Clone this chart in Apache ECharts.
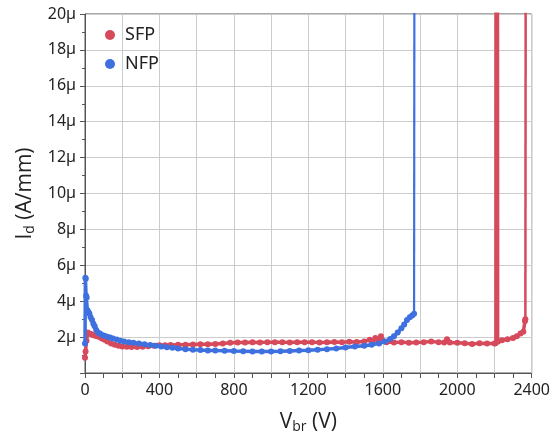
<!DOCTYPE html>
<html>
<head>
<meta charset="utf-8">
<script src="https://cdn.jsdelivr.net/npm/echarts@6/dist/echarts.min.js"></script>
<style>html,body{margin:0;padding:0;background:#fff}#c{width:553px;height:441px}</style>
</head>
<body>
<div id="c"></div>
<script>
// Values in µA/mm (y) and V (x)
const sfpLow = [
[0,0.85],[3,1.2],[8,1.8],[14,2.25],[20,2.2],[28,2.18],[36,2.15],[45,2.12],[55,2.08],[65,2.05],[78,2.0],[90,1.92],[105,1.85],[120,1.75],[140,1.65],[160,1.58],[180,1.52],[200,1.48],[225,1.46],[250,1.45],[280,1.45],[310,1.46],[340,1.49],[370,1.52],[400,1.54],[430,1.55],[460,1.56],[500,1.57],[540,1.58],[580,1.59],[620,1.6],[660,1.6],[700,1.62],[740,1.64],[780,1.68],[820,1.7],[860,1.7],[900,1.71],[940,1.7],[980,1.72],[1020,1.71],[1060,1.72],[1100,1.7],[1140,1.72],[1180,1.71],[1220,1.72],[1260,1.7],[1300,1.71],[1340,1.73],[1380,1.72],[1420,1.74],[1460,1.73],[1500,1.76],[1530,1.85],[1545,1.75],[1560,1.95],[1575,1.8],[1590,2.05],[1600,1.8],[1620,1.72],[1660,1.7],[1700,1.72],[1740,1.68],[1780,1.7],[1820,1.72],[1860,1.75],[1900,1.72],[1930,1.7],[1945,1.88],[1960,1.7],[2000,1.68],[2040,1.66],[2080,1.62],[2120,1.66],[2160,1.65],[2200,1.64],[2206,1.66]
];
const sfpBreak1 = [[2206,1.66],[2207,25],[2218,25],[2219,1.75]];
const sfpTail = [[2219,1.75],[2240,1.82],[2270,1.88],[2300,1.95],[2320,2.05],[2340,2.2],[2355,2.3],[2364,2.9],[2366,3.0]];
const sfpBreak2 = [[2366,3.0],[2368,25]];
const nfpLow = [
[0,1.65],[2,5.3],[4,5.25],[6,4.3],[9,4.2],[13,3.5],[18,3.4],[24,3.3],[30,3.1],[38,2.95],[45,2.75],[52,2.6],[60,2.4],[70,2.25],[80,2.2],[92,2.12],[105,2.08],[120,2.02],[135,1.98],[150,1.92],[170,1.86],[190,1.8],[210,1.76],[235,1.72],[260,1.68],[290,1.64],[320,1.6],[350,1.56],[380,1.52],[410,1.48],[440,1.44],[470,1.4],[500,1.36],[540,1.33],[580,1.3],[620,1.28],[660,1.26],[700,1.25],[750,1.24],[800,1.22],[850,1.21],[900,1.2],[950,1.2],[1000,1.2],[1050,1.21],[1100,1.23],[1150,1.25],[1200,1.27],[1250,1.3],[1300,1.33],[1350,1.37],[1400,1.42],[1450,1.47],[1500,1.52],[1540,1.57],[1580,1.65],[1610,1.75],[1640,1.9],[1660,2.05],[1680,2.25],[1700,2.5],[1715,2.7],[1730,2.95],[1745,3.1],[1758,3.2],[1768,3.3]
];
const nfpBreak = [[1768,3.3],[1770,25]];
const xTicks = [0,400,800,1200,1600,2000,2400];
const yTicks = [2,4,6,8,10,12,14,16,18,20];
const seriesNames = ['SFP','NFP'];
const colors = ['#d64a5b','#3e70df'];

const font = 'Noto Sans';
const tfont = 'Open Sans';
function body(name, data, c, z){
  return {name, type:'line', data, symbol:'circle', symbolSize:6, showSymbol:true,
    lineStyle:{width:3.5,color:c}, itemStyle:{color:c}, color:c, clip:true, z};
}
function rise(name, data, c, z, w){
  return {name, type:'line', data, showSymbol:false, symbol:'circle',
    lineStyle:{width:w,color:c}, itemStyle:{color:c}, color:c, clip:true, z};
}
const chart = echarts.init(document.getElementById('c'), null, {renderer:'canvas'});
chart.setOption({
  animation:false,
  backgroundColor:'#fff',
  grid:{left:85,right:20,top:14,bottom:68,show:true,borderColor:'#555',borderWidth:1,backgroundColor:'transparent'},
  legend:{
    data:seriesNames, orient:'vertical', left:100, top:21, itemGap:11,
    icon:'circle', itemWidth:20, itemHeight:10,
    textStyle:{fontFamily:font,fontSize:18,color:'#222'}
  },
  xAxis:{
    type:'value', min:0, max:2400, interval:200,
    name:'{a|V}{s|br}{a| (V)}', nameLocation:'middle', nameGap:37,
    nameTextStyle:{rich:{a:{fontFamily:tfont,fontSize:21,color:'#222'},s:{fontFamily:tfont,fontSize:14,color:'#222',padding:[10,0,0,0]}}},
    axisLine:{lineStyle:{color:'#555',width:1}},
    axisTick:{show:true,length:5,lineStyle:{color:'#555'}},
    minorTick:{show:true,splitNumber:2,length:5,lineStyle:{color:'#555'}},
    splitLine:{show:true,lineStyle:{color:'#cccccc',width:1}},
    axisLabel:{fontFamily:font,fontSize:16,color:'#222',margin:9,
      formatter:v=>xTicks.indexOf(v)>=0?String(v):''}
  },
  yAxis:{
    type:'value', min:0, max:20, interval:2,
    name:'{a|I}{s|d}{a| (A/mm)}', nameLocation:'middle', nameGap:48, nameRotate:90,
    nameTextStyle:{rich:{a:{fontFamily:tfont,fontSize:21,color:'#222'},s:{fontFamily:tfont,fontSize:14,color:'#222',padding:[10,0,0,0]}}},
    axisLine:{lineStyle:{color:'#555',width:1}},
    axisTick:{show:true,length:5,lineStyle:{color:'#555'}},
    minorTick:{show:true,splitNumber:2,length:3,lineStyle:{color:'#555'}},
    splitLine:{show:true,lineStyle:{color:'#cccccc',width:1}},
    axisLabel:{fontFamily:font,fontSize:16,color:'#222',margin:9,
      formatter:v=>yTicks.indexOf(v)>=0?(v+'µ'):''}
  },
  series:[
    body('SFP', sfpLow, colors[0], 2),
    rise('SFP', sfpBreak1, colors[0], 2, 2.8),
    body('SFP', sfpTail, colors[0], 2),
    rise('SFP', sfpBreak2, colors[0], 2, 2.5),
    body('NFP', nfpLow, colors[1], 3),
    rise('NFP', nfpBreak, colors[1], 3, 2.2)
  ]
});
</script>
</body>
</html>
